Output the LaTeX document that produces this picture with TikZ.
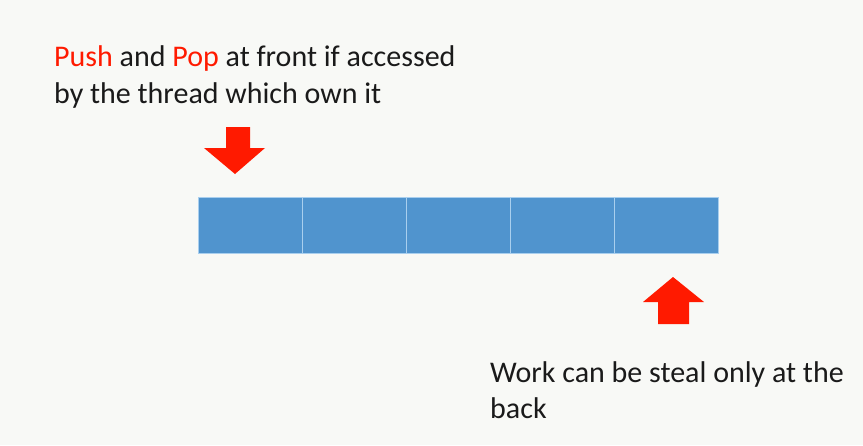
\documentclass[tikz,border=0pt]{standalone}
\usepackage{fontspec}
\setmainfont{Carlito}
\definecolor{bg}{HTML}{F8F9F6}
\definecolor{cellblue}{HTML}{5094CE}
\definecolor{celledge}{HTML}{A9CFEE}
\definecolor{hired}{HTML}{FF1A00}
\definecolor{txt}{HTML}{1A1A1A}
\begin{document}
\begin{tikzpicture}[x=1pt,y=-1pt,
  cell/.style={fill=cellblue,draw=celledge,line width=0.8pt,minimum width=104pt,minimum height=56pt,inner sep=0pt,outer sep=0pt,anchor=north west},
  label/.style={font=\fontsize{30}{37}\selectfont,text=txt,inner sep=0pt,anchor=base west,align=left},
  redarrow/.style={fill=hired,draw=none}]
\fill[bg] (0,0) rectangle (863,445);
\useasboundingbox (0,0) rectangle (863,445);
\foreach \i in {0,...,4}{
  \node[cell] (c\i) at ({198+104*\i},197) {};
}
\node[label] (top1) at (54,66) {\textcolor{hired}{Push} and \textcolor{hired}{Pop} at front if accessed};
\node[label] (top2) at (54,103) {by the thread which own it};
\node[label] (bot1) at (490,382) {Work can be steal only at the};
\node[label] (bot2) at (490,418) {back};
\fill[redarrow] (226,127) -- (250,127) -- (250,148) -- (265,148) -- (235,174) -- (204,148) -- (226,148) -- cycle;
\fill[redarrow] (658,324) -- (689,324) -- (689,302) -- (704,302) -- (673,277) -- (643,302) -- (658,302) -- cycle;
\end{tikzpicture}
\end{document}
